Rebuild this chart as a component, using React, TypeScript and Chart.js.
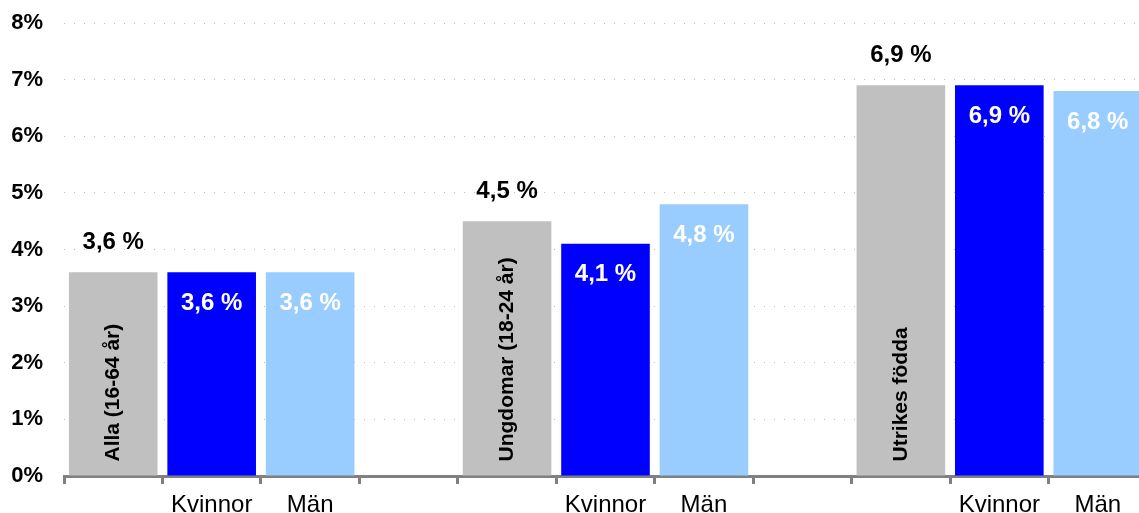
import React, { useEffect, useRef } from 'react';
import { Chart, registerables } from 'chart.js';

Chart.register(...registerables);

// ---- Data ----
const groupNames = ['Alla (16-64 år)', 'Ungdomar (18-24 år)', 'Utrikes födda'];
const allValues = [3.6, 4.5, 6.9];
const womenValues = [3.6, 4.1, 6.9];
const menValues = [3.6, 4.8, 6.8];
const sexLabels = ['Kvinnor', 'Män'];
const yMax = 8;

const COLORS: Record<string, string> = {
  all: '#C0C0C0',
  women: '#0000FF',
  men: '#99CCFF',
  gap: 'rgba(0,0,0,0)',
};

// Build the category layout: [total, Kvinnor, Män, (gap)] per group
const labels: string[] = [];
const values: (number | null)[] = [];
const kinds: string[] = [];
const names: string[] = [];
groupNames.forEach((g, i) => {
  labels.push('', sexLabels[0], sexLabels[1]);
  values.push(allValues[i], womenValues[i], menValues[i]);
  kinds.push('all', 'women', 'men');
  names.push(g, '', '');
  if (i < groupNames.length - 1) {
    labels.push('');
    values.push(null);
    kinds.push('gap');
    names.push('');
  }
});

const FONT = '"Liberation Sans", Arial, Helvetica, sans-serif';

const labelPlugin = {
  id: 'barLabels',
  afterDatasetsDraw(chart: any) {
    const ctx = chart.ctx as CanvasRenderingContext2D;
    const meta = chart.getDatasetMeta(0);
    meta.data.forEach((bar: any, i: number) => {
      const v = values[i];
      if (v == null) return;
      const text = v.toFixed(1).replace('.', ',') + ' %';
      ctx.save();
      ctx.font = `bold 24px ${FONT}`;
      ctx.textAlign = 'center';
      ctx.textBaseline = 'middle';
      if (kinds[i] === 'all') {
        ctx.fillStyle = '#000000';
        ctx.fillText(text, bar.x, bar.y - 30);
        ctx.save();
        ctx.translate(bar.x, bar.base - 14);
        ctx.rotate(-Math.PI / 2);
        ctx.font = `bold 21px ${FONT}`;
        ctx.textAlign = 'left';
        ctx.textBaseline = 'middle';
        ctx.fillStyle = '#000000';
        ctx.fillText(names[i], 0, 0);
        ctx.restore();
      } else {
        ctx.fillStyle = '#FFFFFF';
        ctx.fillText(text, bar.x, bar.y + 31);
      }
      ctx.restore();
    });
  },
};

export default function App() {
  const canvasRef = useRef<HTMLCanvasElement | null>(null);

  useEffect(() => {
    if (!canvasRef.current) return;
    Chart.defaults.font.family = FONT;
    const chart = new Chart(canvasRef.current, {
      type: 'bar',
      data: {
        labels,
        datasets: [
          {
            data: values as any,
            backgroundColor: kinds.map((k) => COLORS[k]),
            borderWidth: 0,
            barPercentage: 0.9,
            categoryPercentage: 1,
          },
        ],
      },
      options: {
        animation: false,
        responsive: false,
        devicePixelRatio: 1,
        layout: { padding: { top: 23, left: 0, right: 0, bottom: 0 } },
        plugins: {
          legend: { display: false },
          tooltip: { enabled: false },
        },
        scales: {
          x: {
            type: 'category',
            offset: true,
            grid: {
              offset: true,
              drawOnChartArea: false,
              color: '#808080',
              lineWidth: 3,
              tickLength: 8,
            },
            border: { display: true, color: '#808080', width: 3 },
            ticks: {
              autoSkip: false,
              maxRotation: 0,
              minRotation: 0,
              padding: 7,
              color: '#000000',
              font: { size: 24, family: FONT },
            },
            afterFit: (s: any) => {
              s.height = 37;
              s.paddingLeft = 0;
              s.paddingRight = 0;
            },
          },
          y: {
            min: 0,
            max: yMax,
            ticks: {
              stepSize: 1,
              callback: (v: any) => `${v}%`,
              padding: 21,
              color: '#000000',
              font: { size: 22, weight: 'bold', family: FONT },
            },
            grid: { color: '#BFBFBF', lineWidth: 1, drawTicks: false },
            border: { display: false, dash: [1, 9] },
            afterFit: (s: any) => {
              s.width = 64;
              s.paddingTop = 0;
              s.paddingBottom = 0;
            },
          },
        },
      },
      plugins: [labelPlugin],
    });
    return () => chart.destroy();
  }, []);

  return (
    <div
      style={{
        position: 'absolute',
        left: 0,
        top: 0,
        width: 1139,
        height: 513,
        overflow: 'hidden',
        background: '#FFFFFF',
      }}
    >
      <canvas ref={canvasRef} width={1147} height={513} style={{ display: 'block' }} />
    </div>
  );
}
